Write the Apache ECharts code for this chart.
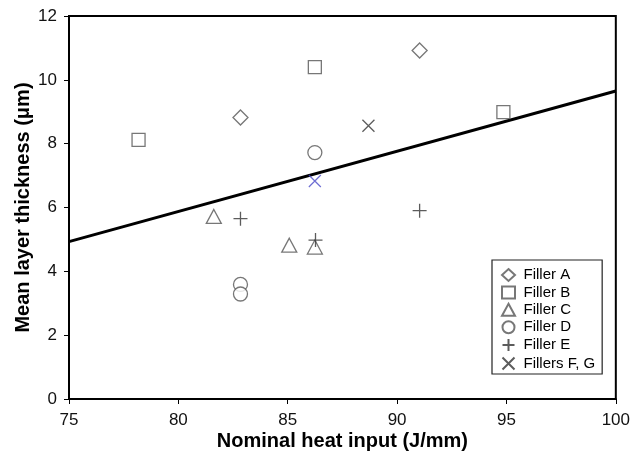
<!DOCTYPE html>
<html>
<head>
<meta charset="utf-8">
<script src="https://cdn.jsdelivr.net/npm/echarts@6/dist/echarts.min.js"></script>
<style>html,body{margin:0;padding:0;background:#fff}#c{width:633px;height:460px}</style>
</head>
<body>
<div id="c"></div>
<script>
const xTicks = [75, 80, 85, 90, 95, 100];
const yTicks = [0, 2, 4, 6, 8, 10, 12];
const fillerA = [[82.84, 8.82], [91.03, 10.92]];
const fillerB = [[78.18, 8.12], [86.24, 10.40], [94.86, 8.99]];
const fillerC = [[81.62, 5.72], [85.07, 4.82], [86.24, 4.76]];
const fillerD = [[86.24, 7.72], [82.84, 3.59], [82.84, 3.29]];
const fillerE = [[82.84, 5.65], [86.27, 4.98], [91.03, 5.90]];
const fillerF = [[88.69, 8.56]];
const fillerG = [[86.24, 6.83]];
const trend = [[75, 4.93], [100, 9.65]];
const names = ['Filler A', 'Filler B', 'Filler C', 'Filler D', 'Filler E', 'Fillers F, G'];

const plusPath = 'path://M0,5L10,5M5,0L5,10';
const crossPath = 'path://M0,0L10,10M10,0L0,10';
const mk = '#555';
function sc(name, data, symbol, size, extra) {
  return Object.assign({
    type: 'scatter', name: name, data: data, symbol: symbol, symbolSize: size,
    itemStyle: {color: '#fff', borderColor: mk, borderWidth: 1.3},
    z: 3
  }, extra || {});
}
const crossData = fillerF.map(p => ({value: p})).concat(fillerG.map(p => ({value: p, itemStyle: {color: 'none', borderColor: '#4a4ac8', borderWidth: 1.2}})));
const chart = echarts.init(document.getElementById('c'), null, {renderer: 'canvas'});
chart.setOption({
  animation: false,
  backgroundColor: '#fff',
  grid: {left: 69, top: 16, right: 13, bottom: 61, show: true, borderColor: '#000', borderWidth: 2, backgroundColor: 'transparent'},
  xAxis: {
    type: 'value', min: xTicks[0], max: xTicks[xTicks.length - 1], interval: 5,
    name: 'Nominal heat input (J/mm)', nameLocation: 'middle', nameGap: 32, nameMoveOverlap: false,
    nameTextStyle: {fontFamily: 'Liberation Sans', fontWeight: 'bold', fontSize: 20, color: '#000'},
    axisLine: {show: true, lineStyle: {color: '#000', width: 2}},
    axisTick: {show: true, inside: false, length: 5, lineStyle: {color: '#000', width: 1}},
    axisLabel: {fontFamily: 'Liberation Sans', fontSize: 17, color: '#111', margin: 13},
    splitLine: {show: false}
  },
  yAxis: {
    type: 'value', min: yTicks[0], max: yTicks[yTicks.length - 1], interval: 2,
    name: 'Mean layer thickness (μm)', nameLocation: 'middle', nameGap: 36, nameMoveOverlap: false,
    nameTextStyle: {fontFamily: 'Liberation Sans', fontWeight: 'bold', fontSize: 20, color: '#000'},
    axisLine: {show: true, lineStyle: {color: '#000', width: 2}},
    axisTick: {show: true, inside: false, length: 5, lineStyle: {color: '#000', width: 1}},
    axisLabel: {fontFamily: 'Liberation Sans', fontSize: 17, color: '#111', margin: 12},
    splitLine: {show: false}
  },
  legend: {
    orient: 'vertical', left: 492, top: 260,
    padding: [7, 7, 2, 8], itemGap: 1.4, itemWidth: 13, itemHeight: 12,
    backgroundColor: '#fff', borderColor: '#222', borderWidth: 1.2,
    textStyle: {fontFamily: 'Liberation Sans', fontSize: 15, lineHeight: 16, color: '#000', padding: [0, 0, 0, 3.5]},
    data: names
  },
  series: [
    {type: 'line', data: trend, symbol: 'none', lineStyle: {color: '#000', width: 3}, z: 2, silent: true},
    sc(names[0], fillerA, 'diamond', [15, 15]),
    sc(names[1], fillerB, 'rect', [13, 13]),
    sc(names[2], fillerC, 'triangle', [15, 14]),
    sc(names[3], fillerD, 'circle', 14),
    sc(names[4], fillerE, plusPath, 14, {itemStyle: {color: 'none', borderColor: '#333', borderWidth: 1.3}}),
    sc(names[5], crossData, crossPath, 12, {itemStyle: {color: 'none', borderColor: '#333', borderWidth: 1.3}})
  ]
});
</script>
</body>
</html>
